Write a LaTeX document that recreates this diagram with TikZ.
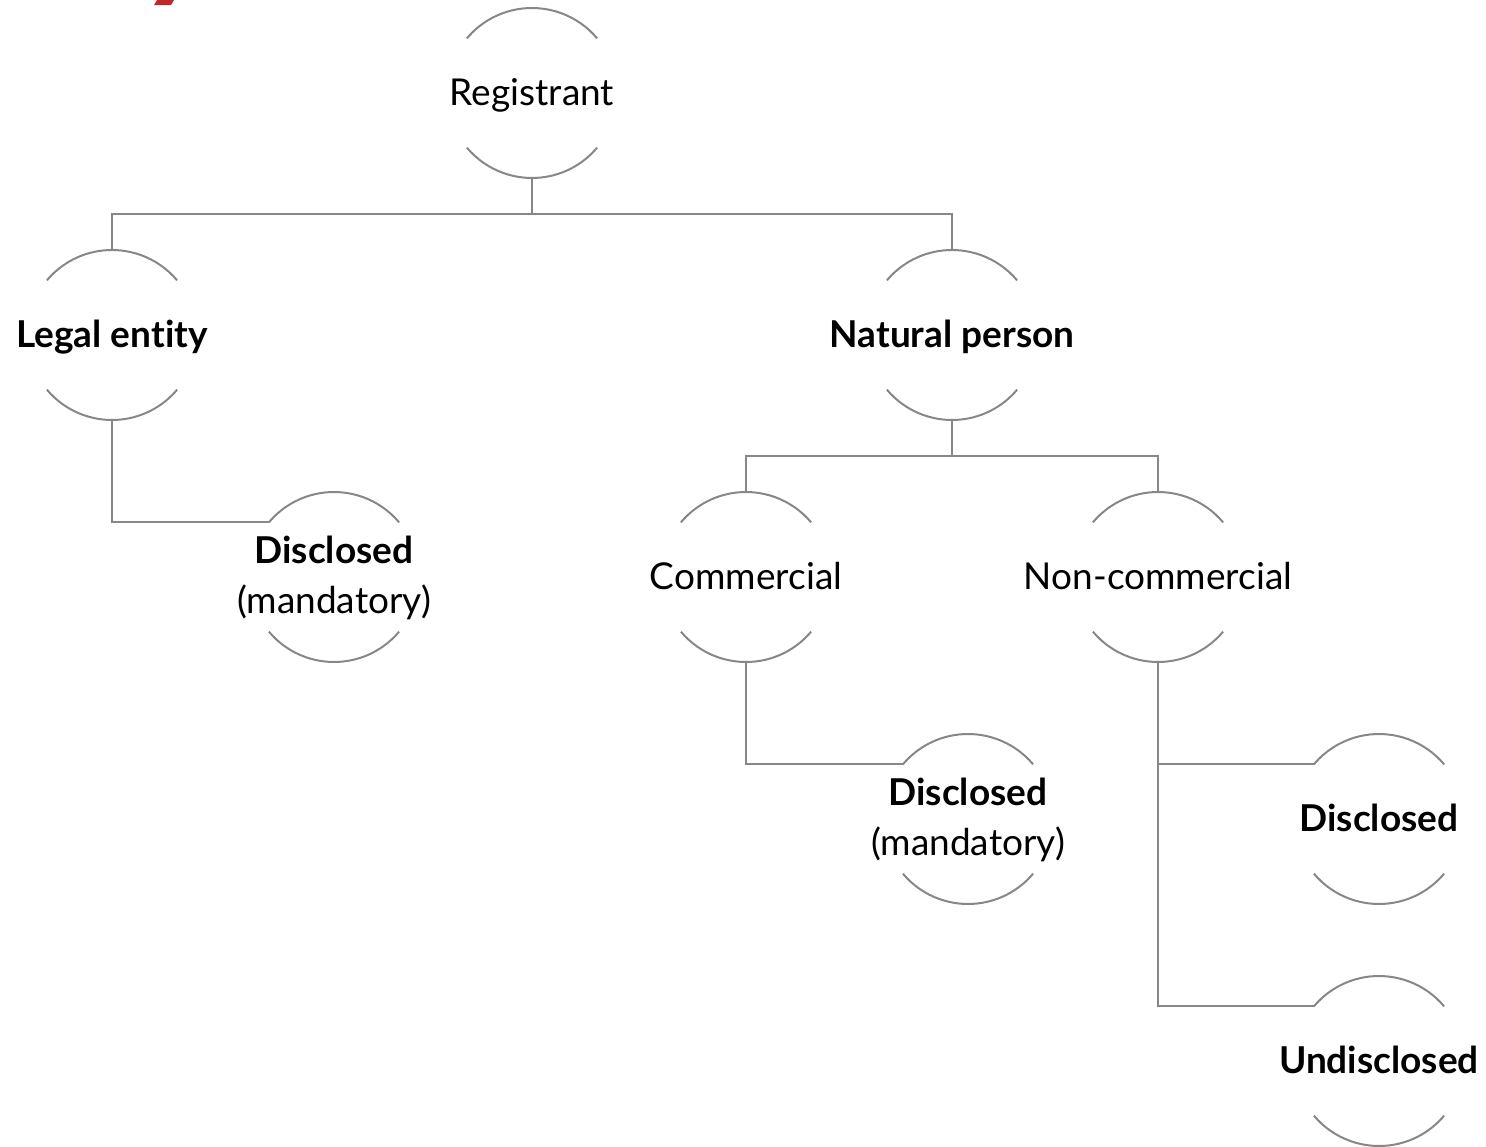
\documentclass[tikz,border=0pt]{standalone}
\usepackage{fontspec}
\setmainfont[Ligatures=NoCommon]{Lato}
\definecolor{linegray}{RGB}{135,135,135}
\definecolor{markred}{RGB}{196,38,46}
\newcommand\halfarcs[1]{%
  \draw[ln] ([shift={(40:85pt)}]#1.center) arc[start angle=40,end angle=140,radius=85pt];
  \draw[ln] ([shift={(220:85pt)}]#1.center) arc[start angle=220,end angle=320,radius=85pt];}
\begin{document}
\begin{tikzpicture}[x=1pt,y=1pt,
  ln/.style={draw=linegray,line width=2pt},
  hub/.style={circle,minimum size=170pt,inner sep=0pt,outer sep=0pt},
  lbl/.style={inner sep=0pt,anchor=base,font=\fontsize{37}{44}\selectfont,text=black},
  bl/.style={lbl,font=\fontsize{37}{44}\selectfont\bfseries}]
\useasboundingbox (0,0) rectangle (1486,-1146);
\fill[markred] (154,-5) -- (157,0) -- (174,0) -- (171,-5) -- cycle;

% hubs
\node[hub] (reg)   at (532,-93)   {};
\node[hub] (legal) at (112,-335)  {};
\node[hub] (nat)   at (952,-335)  {};
\node[hub] (dl)    at (334,-577)  {};
\node[hub] (com)   at (746,-577)  {};
\node[hub] (nonc)  at (1158,-577) {};
\node[hub] (dm)    at (968,-819)  {};
\node[hub] (dr)    at (1379,-819) {};
\node[hub] (und)   at (1379,-1061){};

\foreach \n in {reg,legal,nat,dl,com,nonc,dm,dr,und}{\halfarcs{\n}}

% labels
\node[lbl] (reg-t)   at ([yshift=-12pt]reg.center)   {Registrant};
\node[bl]  (legal-t) at ([yshift=-12pt]legal.center) {Legal entity};
\node[bl]  (nat-t)   at ([yshift=-12pt]nat.center)   {Natural person};
\node[bl]  (dl-t)    at ([yshift=14pt]dl.center)     {Disclosed};
\node[lbl] (dl-m)    at ([yshift=-36pt]dl.center)    {(mandatory)};
\node[lbl] (com-t)   at ([yshift=-12pt]com.center)   {Commercial};
\node[lbl] (nonc-t)  at ([yshift=-12pt]nonc.center)  {Non-commercial};
\node[bl]  (dm-t)    at ([yshift=14pt]dm.center)     {Disclosed};
\node[lbl] (dm-m)    at ([yshift=-36pt]dm.center)    {(mandatory)};
\node[bl]  (dr-t)    at ([yshift=-12pt]dr.center)    {Disclosed};
\node[bl]  (und-t)   at ([yshift=-12pt]und.center)   {Undisclosed};

% connectors
\draw[ln] (reg.south) -- ++(0,-36) coordinate (j1);
\draw[ln] (legal.north) |- (j1) -| (nat.north);
\draw[ln] (nat.south) -- ++(0,-36) coordinate (j2);
\draw[ln] (com.north) |- (j2) -| (nonc.north);
\draw[ln] (legal.south) |- (dl.140);
\draw[ln] (com.south) |- (dm.140);
\draw[ln] (nonc.south) |- (und.140);
\draw[ln] (nonc.south |- dr.140) -- (dr.140);
\end{tikzpicture}
\end{document}
